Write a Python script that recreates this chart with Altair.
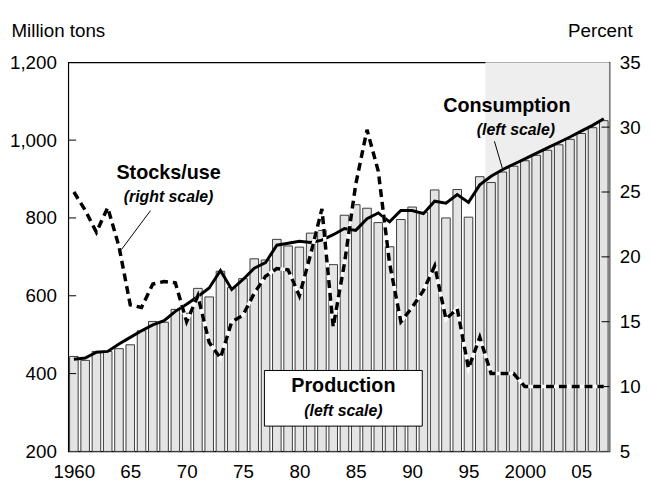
import altair as alt
import pandas as pd

years = list(range(1960, 2008))
production = [
    444, 434, 457, 457, 464, 474, 510, 534, 532, 565,
    555, 619, 597, 663, 621, 644, 695, 692, 745, 728,
    725, 761, 768, 680, 807, 834, 825, 788, 726, 796,
    828, 815, 872, 800, 873, 802, 906, 891, 918, 933,
    947, 961, 974, 988, 1002, 1017, 1032, 1050,
]
consumption = [
    437, 440, 455, 457, 476, 493, 510, 525, 536, 560,
    578, 598, 620, 665, 616, 642, 671, 685, 730, 735,
    740, 737, 743, 757, 773, 768, 798, 813, 790, 819,
    819, 811, 843, 838, 860, 840, 885, 907, 924, 938,
    952, 966, 980, 994, 1008, 1023, 1038, 1055,
]
stocks_use = [
    25.0, 23.6, 21.9, 23.8, 20.8, 16.3, 16.1, 17.9, 18.1, 18.0,
    15.0, 17.0, 13.4, 12.2, 15.0, 15.5, 17.2, 18.5, 19.1, 19.0,
    17.0, 20.2, 23.7, 14.6, 19.5, 25.6, 29.8, 26.6, 19.5, 15.0,
    16.1, 17.4, 19.3, 15.2, 16.0, 11.4, 13.8, 11.0, 11.0, 11.0,
    10.0, 10.0, 10.0, 10.0, 10.0, 10.0, 10.0, 10.0,
]
x_ticks = [1960, 1965, 1970, 1975, 1980, 1985, 1990, 1995, 2000, 2005]
left_ticks = [200, 400, 600, 800, 1000, 1200]
right_ticks = [5, 10, 15, 20, 25, 30, 35]
projection_span = [1996.5, 2007.5]

FONT = "Liberation Sans"
FS = 19
W, H = 548, 394

df = pd.DataFrame({"year": years, "production": production,
                   "consumption": consumption, "stocks": stocks_use})
df["x0"] = df["year"] - 0.38
df["x1"] = df["year"] + 0.38

xscale = alt.Scale(domain=[1959.5, 2007.5], nice=False, zero=False)
lscale = alt.Scale(domain=[200, 1200], nice=False, zero=False)
rscale = alt.Scale(domain=[5, 35], nice=False, zero=False)

xaxis = alt.Axis(values=x_ticks, format="d", ticks=False, domain=False, grid=False,
                 labelExpr="datum.value == 1960 || datum.value == 2000 ? datum.label : slice(datum.label, 2)",
                 labelFontSize=FS, labelFont=FONT, labelColor="black", labelPadding=11, title=None)
laxis = alt.Axis(values=left_ticks, format=",d", ticks=False, domain=False, grid=False,
                 labelFontSize=FS, labelFont=FONT, labelColor="black", labelPadding=12,
                 title="Million tons", titleAngle=0, titleAlign="left", titleBaseline="middle",
                 titleX=-58, titleY=-32, titleFontSize=FS, titleFont=FONT, titleFontWeight="normal",
                 titleColor="black")
raxis = alt.Axis(values=right_ticks, ticks=False, domain=False, grid=False, orient="right",
                 labelFontSize=FS, labelFont=FONT, labelColor="black", labelPadding=10,
                 title="Percent", titleAngle=0, titleAlign="right", titleBaseline="middle",
                 titleX=23, titleY=-32, titleFontSize=FS, titleFont=FONT, titleFontWeight="normal",
                 titleColor="black")

base = alt.Chart(df)

shade = alt.Chart(pd.DataFrame({"a": [projection_span[0]], "b": [projection_span[1]]})).mark_rect(
    color="#eeeeee").encode(
    x=alt.X("a:Q", scale=xscale, axis=xaxis), x2="b:Q",
    y=alt.datum(200, scale=lscale, axis=laxis), y2=alt.datum(1200))

bars = base.mark_bar(fill="#e4e4e4", stroke="#3a3a3a", strokeWidth=1).encode(
    x=alt.X("x0:Q", scale=xscale, axis=xaxis), x2="x1:Q",
    y=alt.Y("production:Q", scale=lscale, axis=laxis), y2=alt.datum(200))

cons = base.mark_line(color="black", strokeWidth=3).encode(
    x=alt.X("year:Q", scale=xscale, axis=xaxis),
    y=alt.Y("consumption:Q", scale=lscale, axis=laxis))

lt = alt.Chart(pd.DataFrame({"v": left_ticks[1:-1]})).mark_rule(color="black", strokeWidth=1).encode(
    y=alt.Y("v:Q", scale=lscale, axis=laxis), x=alt.value(0), x2=alt.value(8))

# annotations (data coordinates on left scale)
box = alt.Chart(pd.DataFrame({"a": [1976.9], "b": [1990.9], "c": [408], "d": [265]})).mark_rect(
    fill="white", stroke="black", strokeWidth=1).encode(
    x=alt.X("a:Q", scale=xscale, axis=xaxis), x2="b:Q",
    y=alt.Y("c:Q", scale=lscale, axis=laxis), y2="d:Q")

main_lbl = pd.DataFrame({"x": [1968.4, 1998.4, 1983.9], "y": [916, 1088, 367],
                         "t": ["Stocks/use", "Consumption", "Production"]})
sub_lbl = pd.DataFrame({"x": [1968.4, 1999.2, 1983.9], "y": [853, 1025, 304],
                        "t": ["(right scale)", "(left scale)", "(left scale)"]})
mains = alt.Chart(main_lbl).mark_text(font=FONT, fontSize=20, fontWeight="bold", color="black",
                                      baseline="middle", align="center").encode(
    x=alt.X("x:Q", scale=xscale, axis=xaxis), y=alt.Y("y:Q", scale=lscale, axis=laxis), text="t:N")
subs = alt.Chart(sub_lbl).mark_text(font=FONT, fontSize=16, fontWeight="bold", fontStyle="italic",
                                    color="black", baseline="middle", align="center").encode(
    x=alt.X("x:Q", scale=xscale, axis=xaxis), y=alt.Y("y:Q", scale=lscale, axis=laxis), text="t:N")

leaders = alt.Chart(pd.DataFrame({"x": [1966.8, 1997.3], "x2": [1964.2, 1998.0],
                                  "y": [819, 997], "y2": [718, 928]})).mark_rule(
    color="black", strokeWidth=1).encode(
    x=alt.X("x:Q", scale=xscale, axis=xaxis), x2="x2:Q",
    y=alt.Y("y:Q", scale=lscale, axis=laxis), y2="y2:Q")

left = alt.layer(shade, bars, lt, cons, leaders, box, mains, subs)

white = base.mark_line(color="white", strokeWidth=3.5).encode(
    x=alt.X("year:Q", scale=xscale, axis=xaxis),
    y=alt.Y("stocks:Q", scale=rscale, axis=raxis))
dashed = base.mark_line(color="black", strokeWidth=3.5, strokeDash=[8, 5]).encode(
    x=alt.X("year:Q", scale=xscale, axis=xaxis),
    y=alt.Y("stocks:Q", scale=rscale, axis=raxis))
rt = alt.Chart(pd.DataFrame({"v": right_ticks[1:-1]})).mark_rule(color="black", strokeWidth=1).encode(
    y=alt.Y("v:Q", scale=rscale, axis=raxis), x=alt.value(W - 8), x2=alt.value(W))

right = alt.layer(rt, white, dashed)

chart = alt.layer(left, right).resolve_scale(y="independent").properties(
    width=W, height=H,
    autosize=alt.AutoSizeParams(type="none"),
    padding={"left": 61, "top": 52, "right": 35, "bottom": 29},
    background="white",
).configure_view(stroke="black", strokeWidth=1.2)

chart.save("out.html", embed_options={"renderer": "svg", "actions": False})
